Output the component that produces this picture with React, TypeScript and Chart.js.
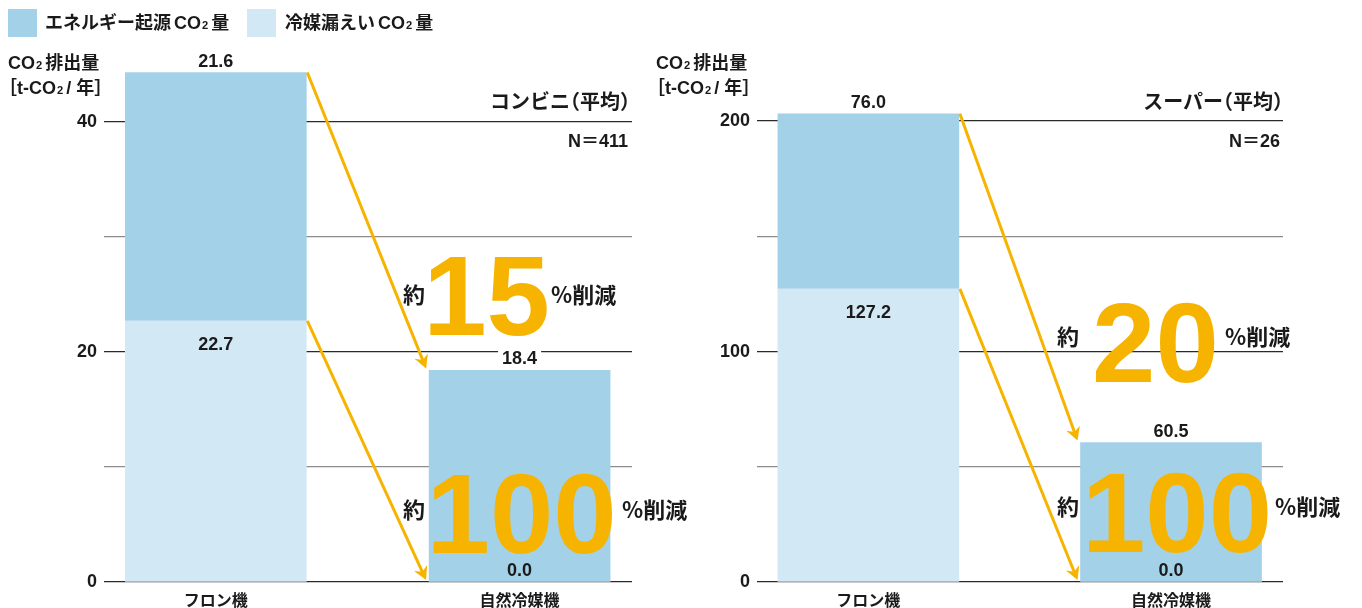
import React, { useEffect, useRef } from 'react';
import { Chart, registerables } from 'chart.js';

Chart.register(...registerables);

// ---------- data ----------
const categories = ['フロン機', '自然冷媒機'];
const seriesEnergy = 'エネルギー起源CO₂量';
const seriesLeak = '冷媒漏えいCO₂量';

const convEnergy = [21.6, 18.4];
const convLeak = [22.7, 0.0];
const superEnergy = [76.0, 60.5];
const superLeak = [127.2, 0.0];

const convTicks = [0, 10, 20, 30, 40];
const convTickLabels = ['0', '', '20', '', '40'];
const superTicks = [0, 50, 100, 150, 200];
const superTickLabels = ['0', '', '100', '', '200'];

const convReductions = ['15', '100'];
const superReductions = ['20', '100'];

const convTitle = 'コンビニ';
const superTitle = 'スーパー';
const convN = '411';
const superN = '26';

// ---------- style ----------
const FONT = '"Liberation Sans", "Noto Sans CJK JP", sans-serif';
const JP = '"Noto Sans CJK JP", "Liberation Sans", sans-serif';
const ENERGY_COLOR = '#a3d1e8';
const LEAK_COLOR = '#d3e8f5';
const YELLOW = '#f6b400';
const TEXT = '#1a1a1a';

type Annot = { yakuDx: number; numDx: number; pctDx: number; numBase: number; textBase: number };
type PanelCfg = {
  left: number;
  width: number;
  axisWidth: number;
  padTop: number;
  padRight: number;
  max: number;
  bar: number;
  energy: number[];
  leak: number[];
  ticks: number[];
  tickLabels: string[];
  reductions: string[];
  annots: Annot[];
};

const PANELS: PanelCfg[] = [
  {
    left: 0, width: 720, axisWidth: 104, padTop: 53, padRight: 88, max: 46, bar: 181,
    energy: convEnergy, leak: convLeak, ticks: convTicks, tickLabels: convTickLabels,
    reductions: convReductions,
    annots: [
      { yakuDx: -105.5, numDx: -33, pctDx: 31.5, numBase: 335, textBase: 303 },
      { yakuDx: -105.5, numDx: 2, pctDx: 102.5, numBase: 553, textBase: 518 },
    ],
  },
  {
    left: 681, width: 681, axisWidth: 76, padTop: 52, padRight: 79, max: 230, bar: 181,
    energy: superEnergy, leak: superLeak, ticks: superTicks, tickLabels: superTickLabels,
    reductions: superReductions,
    annots: [
      { yakuDx: -103, numDx: -15.5, pctDx: 54, numBase: 382, textBase: 345 },
      { yakuDx: -103, numDx: 6, pctDx: 104, numBase: 552, textBase: 515 },
    ],
  },
];

function drawArrow(ctx: CanvasRenderingContext2D, x1: number, y1: number, x2: number, y2: number) {
  ctx.save();
  ctx.strokeStyle = YELLOW;
  ctx.fillStyle = YELLOW;
  ctx.lineWidth = 3;
  ctx.lineCap = 'butt';
  const ang = Math.atan2(y2 - y1, x2 - x1);
  const back = 6;
  ctx.beginPath();
  ctx.moveTo(x1, y1);
  ctx.lineTo(x2 - back * Math.cos(ang), y2 - back * Math.sin(ang));
  ctx.stroke();
  const len = 15;
  const spread = 0.5;
  ctx.beginPath();
  ctx.moveTo(x2, y2);
  ctx.lineTo(x2 - len * Math.cos(ang - spread), y2 - len * Math.sin(ang - spread));
  ctx.lineTo(x2 - len * 0.6 * Math.cos(ang), y2 - len * 0.6 * Math.sin(ang));
  ctx.lineTo(x2 - len * Math.cos(ang + spread), y2 - len * Math.sin(ang + spread));
  ctx.closePath();
  ctx.fill();
  ctx.restore();
}

function makePlugin(cfg: PanelCfg) {
  return {
    id: 'annotations',
    afterDatasetsDraw(chart: any) {
      const ctx: CanvasRenderingContext2D = chart.ctx;
      const leakMeta = chart.getDatasetMeta(0);
      const energyMeta = chart.getDatasetMeta(1);
      const lb = leakMeta.data.map((el: any) => el.getProps(['x', 'y', 'base', 'width'], true));
      const eb = energyMeta.data.map((el: any) => el.getProps(['x', 'y', 'base', 'width'], true));

      ctx.save();
      ctx.font = `bold 18px ${FONT}`;
      ctx.textAlign = 'center';
      ctx.textBaseline = 'alphabetic';
      // energy labels above bar tops
      eb.forEach((b: any, i: number) => {
        const txt = cfg.energy[i].toFixed(1);
        const w = ctx.measureText(txt).width + 8;
        const base = b.y - 6;
        ctx.fillStyle = '#ffffff';
        ctx.fillRect(b.x - w / 2, base - 16, w, 20);
        ctx.fillStyle = TEXT;
        ctx.fillText(txt, b.x, base);
      });
      // leak labels
      lb.forEach((b: any, i: number) => {
        const v = cfg.leak[i];
        const txt = v.toFixed(1);
        ctx.fillStyle = TEXT;
        if (v > 0) ctx.fillText(txt, b.x, b.y + 29);
        else ctx.fillText(txt, b.x, b.base - 6);
      });
      ctx.restore();

      // arrows
      const a = eb[0];
      const b = eb[1];
      const la = lb[0];
      const lbb = lb[1];
      const x1 = a.x + a.width / 2;
      const x2 = b.x - b.width / 2 - 3;
      drawArrow(ctx, x1 + 1, a.y, x2, b.y - 2);
      drawArrow(ctx, x1 + 1, la.y, x2, lbb.base - 2);

      // reduction texts
      ctx.save();
      cfg.reductions.forEach((num, i) => {
        const an = cfg.annots[i];
        const cx = b.x;
        ctx.fillStyle = TEXT;
        ctx.font = `bold 22px ${JP}`;
        ctx.textAlign = 'center';
        ctx.fillText('約', cx + an.yakuDx, an.textBase);
        ctx.textAlign = 'left';
        ctx.fillText('%削減', cx + an.pctDx, an.textBase);
        ctx.fillStyle = YELLOW;
        ctx.font = `bold 114px ${FONT}`;
        ctx.textAlign = 'center';
        ctx.fillText(num, cx + an.numDx, an.numBase);
      });
      ctx.restore();
    },
  };
}

function PanelChart({ cfg }: { cfg: PanelCfg }) {
  const ref = useRef<HTMLCanvasElement>(null);
  useEffect(() => {
    const chart = new Chart(ref.current as HTMLCanvasElement, {
      type: 'bar',
      data: {
        datasets: [
          {
            label: seriesLeak,
            data: cfg.leak.map((v, i) => ({ x: i, y: v })),
            backgroundColor: LEAK_COLOR,
            borderWidth: 0,
            barThickness: cfg.bar,
          },
          {
            label: seriesEnergy,
            data: cfg.energy.map((v, i) => ({ x: i, y: v })),
            backgroundColor: ENERGY_COLOR,
            borderWidth: 0,
            barThickness: cfg.bar,
          },
        ],
      },
      options: {
        responsive: false,
        animation: false,
        events: [],
        layout: { padding: { top: cfg.padTop, right: cfg.padRight, left: 0, bottom: 0 } },
        plugins: { legend: { display: false }, tooltip: { enabled: false }, title: { display: false } },
        scales: {
          x: {
            type: 'linear',
            min: -0.368,
            max: 1.37,
            offset: false,
            stacked: true,
            grid: { display: false, drawTicks: false, offset: false },
            border: { display: false },
            afterBuildTicks: (s: any) => {
              s.ticks = categories.map((_, i) => ({ value: i }));
            },
            afterFit: (s: any) => {
              s.height = 26;
            },
            ticks: {
              callback: (v: any) => categories[v] ?? '',
              font: { family: JP, size: 16, weight: 'bold' },
              color: TEXT,
              padding: 8,
              maxRotation: 0,
              autoSkip: false,
            },
          },
          y: {
            type: 'linear',
            min: 0,
            max: cfg.max,
            stacked: true,
            afterBuildTicks: (s: any) => {
              s.ticks = cfg.ticks.map((v) => ({ value: v }));
            },
            afterFit: (s: any) => {
              s.width = cfg.axisWidth;
            },
            grid: {
              drawTicks: false,
              lineWidth: 1.3,
              color: (c: any) => {
                const idx = cfg.ticks.indexOf(c.tick ? c.tick.value : -1);
                return idx >= 0 && cfg.tickLabels[idx] ? '#2a2a2a' : '#8c8c8c';
              },
            },
            border: { display: false },
            ticks: {
              callback: (v: any) => {
                const idx = cfg.ticks.indexOf(v);
                return idx >= 0 ? cfg.tickLabels[idx] : '';
              },
              padding: 7,
              font: { family: FONT, size: 18, weight: 'bold' },
              color: TEXT,
            },
          },
        },
      } as any,
      plugins: [makePlugin(cfg)],
    });
    return () => chart.destroy();
  }, [cfg]);
  return (
    <canvas
      ref={ref}
      width={cfg.width}
      height={608}
      style={{ position: 'absolute', left: cfg.left, top: 0, width: cfg.width, height: 608 }}
    />
  );
}

const Sub = ({ children }: { children: React.ReactNode }) => (
  <span style={{ fontSize: '0.62em', fontFamily: FONT, marginLeft: 1, marginRight: 3 }}>{children}</span>
);
const Halt = ({ children }: { children: React.ReactNode }) => (
  <span style={{ fontFeatureSettings: '"halt"', fontFamily: JP }}>{children}</span>
);

function AxisTitle({ left }: { left: number }) {
  const line: React.CSSProperties = {
    position: 'absolute',
    left,
    fontSize: 18,
    lineHeight: '24px',
    whiteSpace: 'nowrap',
  };
  return (
    <>
      <div style={{ ...line, top: 51 }}>
        CO<Sub>2</Sub>排出量
      </div>
      <div style={{ ...line, top: 74 }}>
        <Halt>［</Halt>t-CO<Sub>2</Sub>/ 年<Halt>］</Halt>
      </div>
    </>
  );
}

function PanelTitle({ right, title, n, nRight }: { right: number; title: string; n: string; nRight: number }) {
  return (
    <>
      <div style={{ position: 'absolute', right, top: 89, fontSize: 20, lineHeight: '24px', whiteSpace: 'nowrap' }}>
        {title}
        <Halt>（</Halt>平均<Halt>）</Halt>
      </div>
      <div style={{ position: 'absolute', right: nRight, top: 129, fontSize: 18, lineHeight: '24px', whiteSpace: 'nowrap' }}>
        N＝{n}
      </div>
    </>
  );
}

export default function App() {
  const legendText: React.CSSProperties = {
    position: 'absolute',
    top: 11,
    fontSize: 18,
    lineHeight: '24px',
    whiteSpace: 'nowrap',
  };
  return (
    <div
      style={{
        position: 'absolute',
        left: 0,
        top: 0,
        width: 1362,
        height: 608,
        background: '#fff',
        fontFamily: FONT,
        fontWeight: 700,
        color: TEXT,
        overflow: 'hidden',
      }}
    >
      {PANELS.map((p, i) => (
        <PanelChart key={i} cfg={p} />
      ))}
      {/* legend */}
      <div style={{ position: 'absolute', left: 8, top: 9, width: 29, height: 28, background: ENERGY_COLOR }} />
      <div style={{ ...legendText, left: 45 }}>
        エネルギー起源<span style={{ marginLeft: 3 }}>CO</span><Sub>2</Sub>量
      </div>
      <div style={{ position: 'absolute', left: 247, top: 9, width: 29, height: 28, background: LEAK_COLOR }} />
      <div style={{ ...legendText, left: 285 }}>
        冷媒漏えい<span style={{ marginLeft: 3 }}>CO</span><Sub>2</Sub>量
      </div>
      <AxisTitle left={8} />
      <AxisTitle left={656} />
      <PanelTitle right={1362 - 630} title={convTitle} n={convN} nRight={1362 - 628} />
      <PanelTitle right={1362 - 1283} title={superTitle} n={superN} nRight={1362 - 1280} />
    </div>
  );
}
